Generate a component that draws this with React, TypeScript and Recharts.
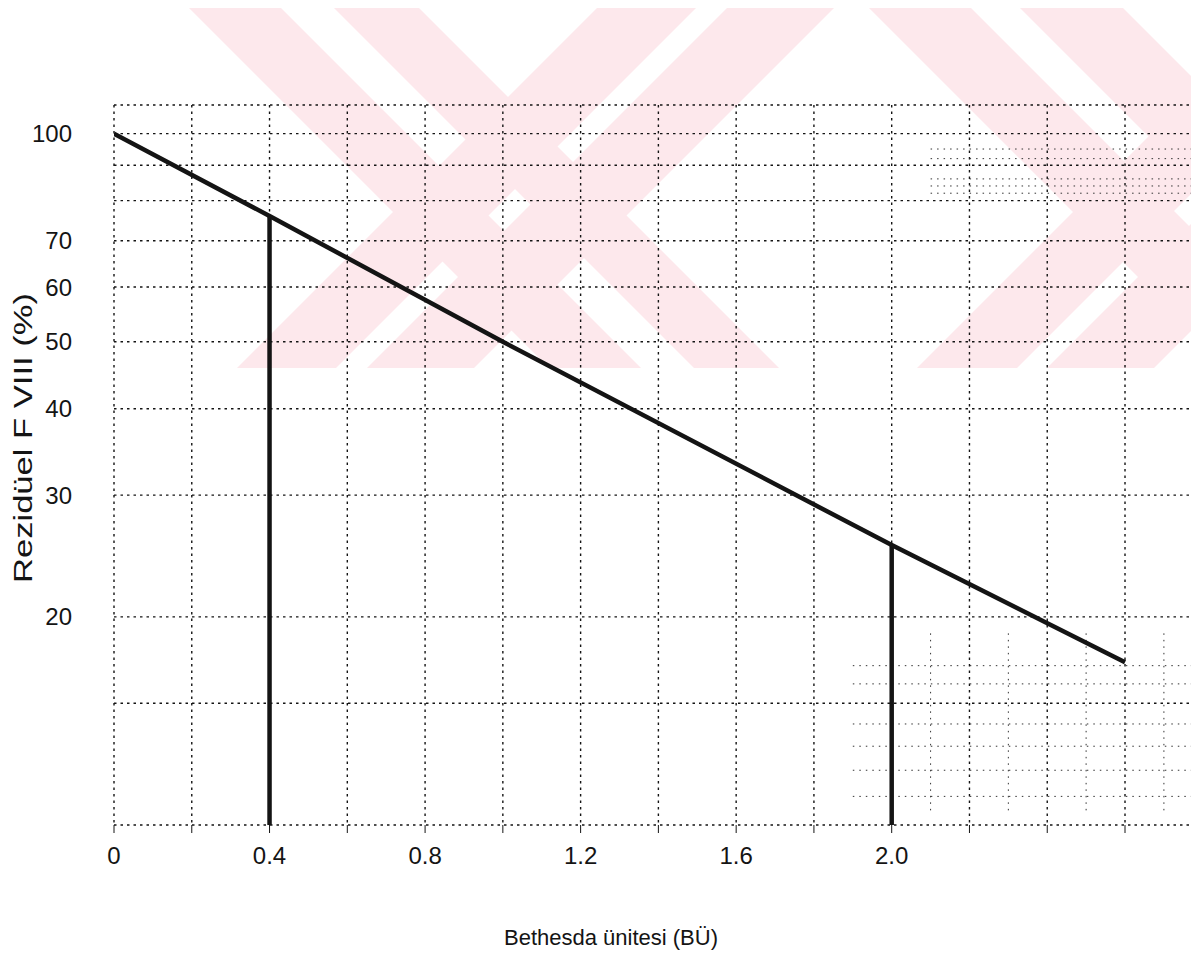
import React from 'react'
import {
  LineChart, Line, XAxis, YAxis, CartesianGrid, ReferenceLine,
} from 'recharts'

// Bethesda unit vs residual FVIII (semi-log)
const bu = [0, 0.4, 1.0, 2.0, 2.6]
const residual = [100, 76, 50, 25.4, 17.2]

// drop lines from the curve down to the axis
const markerBu = [0.4, 2.0]
const markerResidual = [76, 25.4]

const xTicks = [0, 0.2, 0.4, 0.6, 0.8, 1.0, 1.2, 1.4, 1.6, 1.8, 2.0, 2.2, 2.4, 2.6]
const xLabels = ['0', '0.4', '0.8', '1.2', '1.6', '2.0']
const yTicks = [10, 15, 20, 30, 40, 50, 60, 70, 80, 90, 100]
const yLabels = [20, 30, 40, 50, 60, 70, 100]

// finer graph-paper rows on the right side of the sheet
const minorTopRows = [82, 84, 86, 92, 95]
const minorBottomRows = [11, 12, 13, 14, 16, 17]
const minorCols = [2.1, 2.3, 2.5, 2.7]

const X_MAX = 2.78

const data = bu.map((x, i) => ({ bu: x, residual: residual[i] }))

const INK = '#141414'
const PINK = '#fde8ec'
const FONT = '"Liberation Sans", Arial, Helvetica, sans-serif'

// background thesis watermark (decoration only, page coordinates)
const WM_TOP = 5
const WM_BOTTOM = 368
const wmBack = [[186, 92], [331, 85], [866, 102], [1017, 103]]
const wmFwd = [[600, 99], [730, 107], [1280, 100], [1410, 107]]

function Watermark() {
  const h = WM_BOTTOM - WM_TOP
  const poly = (a: number, w: number, dir: number) =>
    `${a},${WM_TOP} ${a + w},${WM_TOP} ${a + w + dir * h},${WM_BOTTOM} ${a + dir * h},${WM_BOTTOM}`
  return (
    <svg width={1199} height={400} style={{ position: 'absolute', left: -8, top: -8 }}>
      <defs>
        <clipPath id="wmClip">
          <rect x={100} y={WM_TOP} width={1095} height={h} />
        </clipPath>
      </defs>
      <g clipPath="url(#wmClip)" fill={PINK}>
        {wmBack.map(([a, w]) => <polygon key={'b' + a} points={poly(a, w, 1)} />)}
        {wmFwd.map(([a, w]) => <polygon key={'f' + a} points={poly(a, w, -1)} />)}
      </g>
    </svg>
  )
}

const fmtX = (v: number) => {
  const s = v === 0 ? '0' : v.toFixed(1)
  return xLabels.includes(s) ? s : ''
}
const fmtY = (v: number) => (yLabels.includes(v) ? String(v) : '')

const minorStyle = { stroke: '#333', strokeWidth: 1, strokeDasharray: '1.5 5' }

export default function App() {
  return (
    <div style={{ position: 'relative', width: 1187, height: 960, fontFamily: FONT }}>
      <Watermark />
      <LineChart
        width={1187}
        height={960}
        data={data}
        margin={{ top: 97, right: 0, left: 0, bottom: 83 }}
        style={{ position: 'relative' }}
      >
        <CartesianGrid stroke={INK} strokeWidth={1.4} strokeDasharray="2.5 4" />
        {minorTopRows.map((y) => (
          <ReferenceLine key={'t' + y} segment={[{ x: 2.1, y }, { x: X_MAX, y }]} {...minorStyle} />
        ))}
        {minorBottomRows.map((y) => (
          <ReferenceLine key={'b' + y} segment={[{ x: 1.9, y }, { x: X_MAX, y }]} {...minorStyle} />
        ))}
        {minorCols.map((x) => (
          <ReferenceLine key={'c' + x} segment={[{ x, y: 10.5 }, { x, y: 19 }]} {...minorStyle} />
        ))}
        <ReferenceLine x={X_MAX} stroke={INK} strokeWidth={1.4} strokeDasharray="2.5 4" />
        <XAxis
          dataKey="bu"
          type="number"
          domain={[0, X_MAX]}
          ticks={xTicks}
          allowDataOverflow
          tickFormatter={fmtX}
          axisLine={false}
          tickLine={{ stroke: INK, strokeWidth: 1 }}
          tickSize={8}
          tickMargin={14}
          height={60}
          tick={{ fontSize: 24, fill: INK, fontFamily: FONT }}
          label={{
            content: () => (
              <text x={603} y={929} textAnchor="middle" dominantBaseline="central"
                fontSize={22} fill={INK} fontFamily={FONT}>
                Bethesda ünitesi (BÜ)
              </text>
            ),
          }}
        />
        <YAxis
          scale="log"
          type="number"
          domain={[10, 110]}
          ticks={yTicks}
          allowDataOverflow
          tickFormatter={fmtY}
          axisLine={false}
          tickLine={false}
          tickSize={0}
          tickMargin={42}
          width={106}
          tick={{ fontSize: 24, fill: INK, fontFamily: FONT }}
          label={{
            content: () => (
              <text x={15} y={430} transform="rotate(-90 15 430)" textAnchor="middle"
                dominantBaseline="central" fontSize={26} fill={INK} fontFamily={FONT}
                textLength={290} lengthAdjust="spacingAndGlyphs">
                Rezidüel F VIII (%)
              </text>
            ),
          }}
        />
        {markerBu.map((x, i) => (
          <ReferenceLine
            key={x}
            segment={[{ x, y: 10 }, { x, y: markerResidual[i] }]}
            stroke={INK}
            strokeWidth={4.5}
          />
        ))}
        <Line
          type="linear"
          dataKey="residual"
          stroke={INK}
          strokeWidth={4.5}
          dot={false}
          isAnimationActive={false}
        />
      </LineChart>
    </div>
  )
}
